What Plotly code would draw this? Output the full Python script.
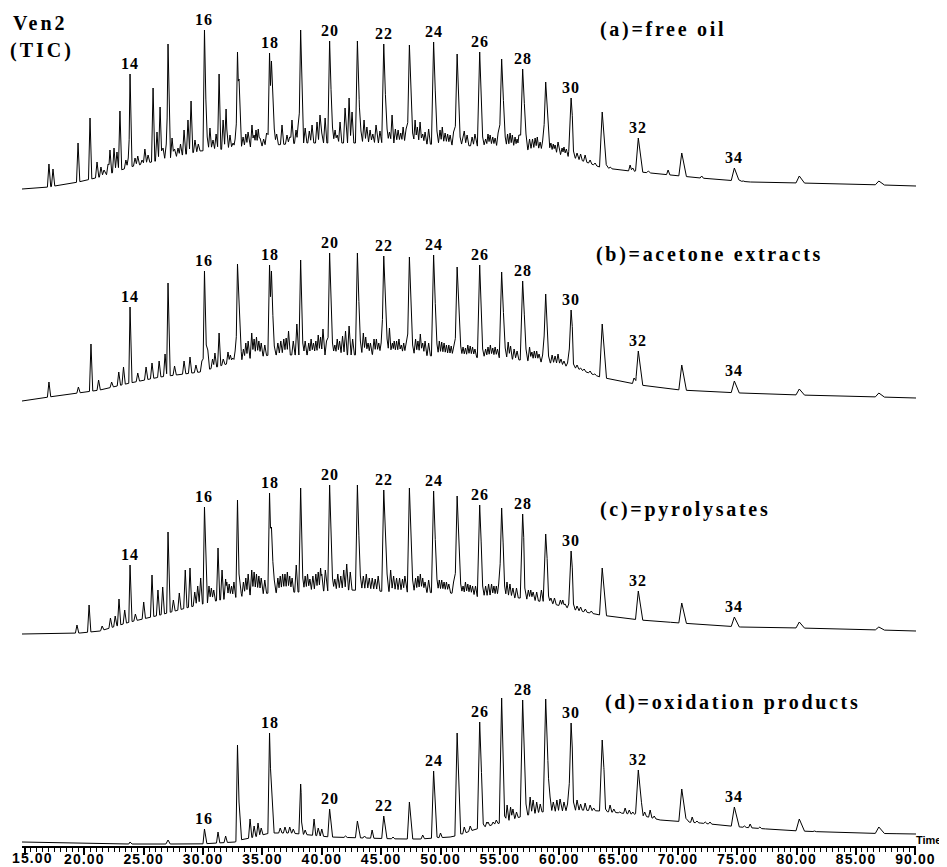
import numpy as np
import plotly.graph_objects as go

# ------------------------------------------------------------------ data
carbon_numbers = list(range(14, 37))
alkane_times = [23.85, 27.05, 30.12, 32.90, 35.60, 38.22, 40.66, 43.00, 45.22, 47.38,
                49.42, 51.40, 53.30, 55.15, 56.92, 58.86, 61.00, 63.62, 66.66, 70.32,
                74.75, 80.22, 86.92]
pristane_time = 33.03
phytane_time = 35.76

# n-alkane apex abundances (arbitrary units) per trace
alk_a = [115, 145, 159, 137, 136, 159, 148, 148, 145, 144, 147, 135, 137, 130, 120, 107, 91, 77, 51, 36, 21, 13, 8]
alk_b = [94, 118, 130, 137, 136, 141, 148, 148, 145, 144, 146, 134, 136, 129, 120, 107, 91, 77, 50, 36, 20, 12, 8]
alk_c = [69, 102, 127, 134, 141, 146, 149, 149, 144, 146, 143, 138, 129, 126, 120, 100, 83, 66, 43, 31, 17, 12, 7]
alk_d = [0, 2, 13, 97, 109, 58, 33, 21, 26, 40, 71, 109, 120, 144, 142, 143, 119, 102, 72, 53, 35, 23, 15]

pr_ph_a = [110, 128]
pr_ph_b = [100, 130]
pr_ph_c = [60, 107]
pr_ph_d = [40, 58]

# unresolved complex mixture hump (baseline) per trace
hump_t_a = [14.75, 17.0, 19.5, 21.3, 23.85, 26.4, 29.75, 34.0, 38.2, 42.4, 46.6, 50.8, 55.0, 59.2, 61.3, 63.4, 65.1, 67.7, 71.9, 76.1, 80.3, 84.5, 90.05]
hump_v_a = [0, 2, 7, 12, 22, 29, 38, 42, 46, 46, 46, 44, 42, 37, 31, 22, 19, 16, 11, 7, 6, 5, 3]
hump_t_b = [14.75, 17.02, 21.32, 23.85, 26.38, 29.75, 33.12, 35.64, 38.17, 42.38, 46.6, 50.81, 55.02, 59.23, 61.34, 63.44, 66.81, 70.18, 75.24, 80.29, 87.03, 90.05]
hump_v_b = [0, 4, 11, 18, 24, 29, 41, 46, 46, 46, 47, 44, 43, 38, 33, 24, 16, 11, 8, 6, 4, 3]
hump_t_c = [14.75, 19.64, 21.32, 23.85, 26.38, 28.9, 31.43, 33.96, 35.64, 38.17, 42.38, 46.6, 50.81, 53.33, 56.7, 59.23, 61.34, 63.44, 66.81, 70.18, 75.24, 80.29, 87.03, 90.05]
hump_v_c = [0, 1, 3, 12, 19, 27, 34, 39, 41, 42, 44, 42, 41, 37, 36, 31, 24, 19, 14, 11, 7, 6, 4, 3]
hump_t_d = [14.75, 21.32, 29.75, 32.69, 33.12, 33.96, 35.64, 37.33, 40.7, 46.6, 48.28, 50.81, 51.65, 52.49, 53.33, 55.02, 56.7, 58.39, 60.07, 61.76, 63.44, 65.13, 66.81, 68.5, 71.87, 75.24, 78.61, 80.29, 84.5, 90.05]
hump_v_d = [0, -2, -2, 0, 2, 4, 9, 9, 5, 3, 3, 5, 7, 11, 14, 19, 25, 30, 31, 32, 31, 29, 27, 22, 19, 15, 12, 11, 9, 8]

# minor resolved peaks (time, apex abundance)
minor_t_a = [17.02, 17.36, 19.47, 20.48, 21.07, 21.4, 21.66, 22.0, 22.16, 22.5, 22.75, 23.0, 23.5, 23.7, 24.27,
             24.5, 24.86, 25.1, 25.37, 25.79, 26.12, 26.38, 26.63, 26.9, 27.39, 27.6, 27.89, 28.1, 28.4, 28.73,
             28.99, 29.32, 29.6, 30.35, 30.58, 30.84, 31.1, 31.35, 31.69, 31.94, 32.0, 32.27, 32.53, 32.7, 33.37,
             33.6, 33.79, 34.12, 34.3, 34.46, 34.65, 34.8, 35.1, 35.35, 36.0, 36.2, 36.65, 37.07, 37.3, 37.49,
             37.83, 38.0, 38.6, 38.95, 39.18, 39.6, 39.85, 40.0, 40.28, 40.9, 41.12, 41.3, 41.54, 41.96, 42.3,
             42.55, 43.3, 43.56, 43.8, 44.07, 44.3, 44.57, 44.9, 45.5, 45.7, 45.92, 46.2, 46.43, 46.65, 46.85,
             47.1, 47.65, 47.86, 48.05, 48.28, 48.5, 48.7, 49.0, 49.7, 49.96, 50.15, 50.39, 50.6, 50.81, 51.1,
             51.65, 51.9, 52.0, 52.24, 52.66, 52.9, 53.55, 53.8, 54.0, 54.18, 54.4, 54.6, 54.85, 55.45, 55.65,
             55.86, 56.05, 56.28, 56.45, 56.6, 57.2, 57.5, 57.75, 57.97, 58.15, 58.39, 58.6, 59.1, 59.3, 59.5,
             59.65, 59.9, 60.24, 60.4, 60.6, 61.2, 61.5, 61.8, 62.18, 62.6, 63.02, 64.3, 65.97, 66.2, 67.5,
             69.17, 72.0, 75.5]
minor_v_a = [25, 20, 46, 71, 27, 22, 19, 25, 39, 41, 37, 78, 29, 31, 31,
             33, 29, 40, 34, 101, 57, 82, 41, 45, 51, 40, 41, 45, 59, 69,
             88, 49, 45, 52, 61, 49, 55, 115, 69, 80, 60, 54, 46, 50, 52,
             55, 57, 64, 54, 59, 60, 51, 50, 56, 60, 55, 64, 54, 52, 69,
             59, 63, 61, 58, 64, 67, 74, 56, 71, 62, 59, 54, 67, 81, 91,
             77, 58, 69, 62, 59, 55, 64, 58, 60, 57, 74, 60, 59, 56, 62,
             60, 56, 69, 62, 67, 55, 57, 60, 58, 59, 62, 56, 55, 54, 57,
             52, 52, 58, 54, 52, 55, 52, 50, 55, 54, 52, 51, 56, 52, 55,
             56, 54, 52, 50, 54, 55, 50, 50, 51, 52, 47, 48, 50, 46, 45,
             44, 47, 41, 42, 40, 38, 36, 35, 34, 29, 26, 22, 24, 21, 18,
             19, 13, 8]

minor_t_b = [17.02, 19.5, 20.56, 21.2, 22.3, 22.9, 23.3, 24.5, 25.2, 25.7, 26.3, 26.8, 27.6, 28.4, 28.9,
             29.4, 29.9, 30.4, 30.8, 31.0, 31.35, 31.7, 32.1, 32.3, 32.5, 32.7, 33.4, 33.6, 33.8, 34.1,
             34.3, 34.5, 34.7, 34.9, 35.2, 36.0, 36.3, 36.55, 36.8, 37.0, 37.2, 37.6, 37.9, 38.4, 38.6,
             38.9, 39.1, 39.3, 39.5, 39.7, 39.9, 40.1, 40.4, 40.9, 41.1, 41.3, 41.5, 41.75, 42.0, 42.3,
             42.6, 43.25, 43.5, 43.7, 43.9, 44.1, 44.4, 44.6, 44.8, 45.0, 45.5, 45.7, 45.95, 46.1, 46.3,
             46.5, 46.7, 46.9, 47.1, 47.65, 47.9, 48.1, 48.3, 48.5, 48.7, 49.0, 49.7, 49.9, 50.1, 50.3,
             50.5, 50.7, 50.9, 51.1, 51.7, 51.9, 52.1, 52.3, 52.5, 52.7, 52.9, 53.55, 53.8, 54.0, 54.2,
             54.4, 54.6, 54.8, 55.45, 55.7, 55.9, 56.2, 56.45, 57.2, 57.5, 57.7, 57.9, 58.1, 58.3, 58.6,
             59.1, 59.4, 59.65, 59.9, 60.15, 60.4, 60.7, 61.2, 61.5, 61.8, 62.1, 62.6, 63.0, 66.3, 67.8,
             69.5]
minor_v_b = [19, 14, 57, 21, 19, 29, 34, 28, 34, 38, 40, 47, 35, 40, 44,
             36, 40, 51, 42, 48, 68, 42, 49, 46, 43, 50, 52, 58, 60, 68,
             62, 64, 60, 58, 56, 55, 58, 60, 62, 63, 70, 60, 77, 58, 60,
             58, 62, 58, 60, 66, 64, 72, 60, 58, 56, 62, 60, 65, 70, 75,
             62, 60, 68, 64, 58, 58, 62, 62, 58, 58, 62, 73, 58, 60, 60,
             62, 56, 58, 58, 56, 62, 60, 67, 58, 60, 58, 57, 60, 59, 58,
             56, 56, 55, 54, 55, 54, 53, 56, 55, 54, 52, 52, 52, 54, 56,
             53, 54, 52, 53, 59, 55, 52, 50, 52, 54, 49, 50, 50, 47, 46,
             45, 46, 45, 47, 42, 40, 38, 37, 36, 33, 32, 30, 27, 23, 12,
             10]

minor_t_c = [19.38, 20.4, 21.5, 22.2, 22.6, 22.92, 23.4, 24.3, 25.0, 25.7, 26.2, 26.6, 27.5, 28.0, 28.5,
             28.9, 29.3, 29.55, 29.8, 30.5, 30.7, 30.9, 31.26, 31.6, 31.9, 32.0, 32.2, 32.4, 32.6, 33.4,
             33.6, 33.8, 34.1, 34.3, 34.5, 34.7, 34.9, 35.2, 36.0, 36.3, 36.5, 36.7, 36.9, 37.1, 37.3,
             37.5, 37.85, 38.4, 38.6, 38.8, 39.0, 39.25, 39.5, 39.7, 39.9, 40.0, 40.3, 40.9, 41.1, 41.35,
             41.6, 41.85, 42.1, 42.4, 43.25, 43.5, 43.75, 44.0, 44.25, 44.5, 44.75, 45.5, 45.8, 46.05, 46.3,
             46.55, 46.8, 47.0, 47.65, 47.9, 48.1, 48.3, 48.5, 48.7, 49.0, 49.7, 49.9, 50.1, 50.3, 50.5,
             50.7, 51.1, 51.7, 51.9, 52.1, 52.3, 52.5, 52.7, 52.95, 53.55, 53.8, 54.05, 54.3, 54.5, 54.7,
             54.9, 55.4, 55.6, 55.85, 56.1, 56.4, 57.1, 57.4, 57.6, 57.8, 58.1, 58.5, 59.1, 59.3, 59.6,
             60.1, 60.3, 60.5, 60.8, 61.2, 61.5, 61.8, 62.2, 62.7, 66.0, 69.5]
minor_v_c = [9, 29, 8, 16, 18, 35, 24, 20, 32, 59, 44, 47, 34, 41, 64,
             66, 42, 48, 56, 48, 46, 44, 86, 64, 55, 52, 50, 48, 52, 52,
             56, 60, 64, 62, 60, 58, 56, 54, 54, 56, 58, 60, 60, 62, 58,
             56, 69, 56, 58, 60, 55, 58, 60, 62, 66, 60, 64, 56, 55, 60,
             58, 64, 70, 62, 58, 58, 60, 56, 56, 55, 58, 60, 64, 58, 56,
             56, 55, 58, 54, 56, 58, 60, 56, 52, 54, 55, 54, 54, 52, 52,
             50, 52, 50, 48, 52, 50, 49, 48, 48, 48, 48, 50, 50, 48, 48,
             50, 48, 52, 50, 46, 46, 46, 44, 44, 42, 42, 44, 38, 36, 36,
             34, 34, 30, 30, 30, 28, 27, 25, 23, 14, 8]

minor_t_d = [27.0, 31.26, 31.9, 33.96, 34.3, 34.63, 34.9, 36.5, 36.9, 37.3, 37.6, 38.3, 38.6, 39.35, 39.7,
             40.0, 42.0, 43.6, 44.24, 46.0, 48.5, 50.0, 52.0, 52.5, 53.6, 53.9, 54.0, 54.43, 54.7, 55.4,
             55.61, 55.9, 56.1, 56.4, 57.2, 57.55, 57.8, 58.1, 58.4, 59.23, 59.5, 59.8, 60.07, 60.4, 60.7,
             61.2, 61.5, 61.8, 62.18, 62.6, 62.9, 63.9, 64.28, 64.6, 65.1, 65.55, 65.9, 66.2, 67.2, 67.66,
             68.0, 68.8, 69.3, 70.8, 71.2, 71.6, 72.3, 72.7, 73.3, 74.0, 75.6, 76.08, 76.9, 77.5, 78.5,
             79.2, 81.5, 82.5, 84.0, 88.5]
minor_v_d = [2, 10, 6, 23, 16, 19, 14, 14, 15, 15, 13, 20, 12, 23, 14,
             13, 6, 6, 12, 5, 7, 9, 15, 16, 18, 20, 20, 20, 22, 26,
             37, 35, 33, 30, 38, 45, 42, 40, 38, 45, 40, 42, 43, 40, 38,
             40, 42, 38, 39, 37, 34, 33, 37, 33, 30, 34, 32, 30, 30, 32,
             26, 22, 21, 22, 25, 21, 20, 20, 18, 17, 16, 18, 15, 13, 12,
             11, 11, 10, 9, 8]

label_carbons_abc = [14, 16, 18, 20, 22, 24, 26, 28, 30, 32, 34]
label_carbons_d = [16, 18, 20, 22, 24, 26, 28, 30, 32, 34]

panel_titles = ["(a)=free oil", "(b)=acetone extracts", "(c)=pyrolysates", "(d)=oxidation products"]
tick_values = [15, 20, 25, 30, 35, 40, 45, 50, 55, 60, 65, 70, 75, 80, 85, 90]
tick_labels = ["15.00", "20.00", "25.00", "30.00", "35.00", "40.00", "45.00", "50.00",
               "55.00", "60.00", "65.00", "70.00", "75.00", "80.00", "85.00", "90.00"]


# ------------------------------------------------------------------ build traces
def build_trace(hump_t, hump_v, alk_v, prph_v, minor_t, minor_v):
    pt = list(alkane_times) + [pristane_time, phytane_time] + list(minor_t)
    pv = list(alk_v) + list(prph_v) + list(minor_v)
    major = [True] * (len(alkane_times) + 2) + [False] * len(minor_t)
    order = np.argsort(pt, kind="stable")
    t = np.array(pt, dtype=float)[order]
    v = np.array(pv, dtype=float)[order]
    mj = np.array(major)[order]
    n = len(t)

    def base(x):
        return float(np.interp(x, hump_t, hump_v))

    h = np.array([max(v[i] - base(t[i]), 0.0) for i in range(n)])
    wl = np.empty(n)
    wr = np.empty(n)
    for i in range(n):
        w = 0.08 + 0.003 * (t[i] - 15)
        if mj[i]:
            wl[i], wr[i] = w, 1.6 * w
        else:
            wl[i], wr[i] = 0.13, 0.15

    def tri(i, x):
        w = wl[i] if x < t[i] else wr[i]
        return h[i] * max(0.0, 1 - abs(x - t[i]) / w)

    xs, ys, spans = [], [], []
    for i in range(n):
        left, right = t[i] - wl[i], t[i] + wr[i]
        if i > 0:
            left = max(left, (t[i - 1] + t[i]) / 2)
        if i < n - 1:
            right = min(right, (t[i] + t[i + 1]) / 2)
        yl = base(left) + max(tri(i, left), tri(i - 1, left) if i > 0 else 0.0)
        yr = base(right) + max(tri(i, right), tri(i + 1, right) if i < n - 1 else 0.0)
        xs += [left, t[i], right]
        ys += [yl, base(t[i]) + h[i], yr]
        spans.append((left, right))
    for ht, hv in zip(hump_t, hump_v):
        if not any(l <= ht <= r for l, r in spans):
            xs.append(ht)
            ys.append(hv)
    o = np.argsort(xs, kind="stable")
    return np.array(xs)[o], np.array(ys)[o]


panels = [
    (hump_t_a, hump_v_a, alk_a, pr_ph_a, minor_t_a, minor_v_a, label_carbons_abc),
    (hump_t_b, hump_v_b, alk_b, pr_ph_b, minor_t_b, minor_v_b, label_carbons_abc),
    (hump_t_c, hump_v_c, alk_c, pr_ph_c, minor_t_c, minor_v_c, label_carbons_abc),
    (hump_t_d, hump_v_d, alk_d, pr_ph_d, minor_t_d, minor_v_d, label_carbons_d),
]

# ------------------------------------------------------------------ geometry
# the page body has an 8 px margin, so the figure is drawn 8 px smaller and offset
OFF = 8
PAGE_W, PAGE_H = 947, 867
PLOT_L, PLOT_R, PLOT_T, PLOT_B = 22, 916, OFF, 846      # plot area in page pixels
FIG_W, FIG_H = PAGE_W - OFF, PAGE_H - OFF
H = PLOT_B - PLOT_T
W = PLOT_R - PLOT_L

# (zero level, bottom, top) of each panel, in page pixels
panel_px = [(189, 196, 12), (401, 406, 210), (634, 640, 430), (842, 846, 650)]


def px_x(px):
    return (px - PLOT_L) / W


def px_y(py):
    return (PLOT_B - py) / H


SERIF = "Liberation Serif, Times New Roman, serif"
SANS = "Liberation Sans, Arial, sans-serif"
TICK_FONT = dict(family=SANS, size=14, color="black", weight="bold")


def spaced(s, px):
    return f'<span style="letter-spacing:{px}px">{s}</span>'


fig = go.Figure()
annotations = []
layout_axes = {}
for i, (ht, hv, av, pp, mt, mv, labs) in enumerate(panels):
    yname = "y" if i == 0 else f"y{i + 1}"
    ykey = "yaxis" if i == 0 else f"yaxis{i + 1}"
    xs, ys = build_trace(ht, hv, av, pp, mt, mv)
    fig.add_trace(go.Scatter(x=xs, y=ys, mode="lines", line=dict(color="black", width=1),
                             xaxis="x", yaxis=yname, hoverinfo="skip", showlegend=False))
    Z, B, T = panel_px[i]
    layout_axes[ykey] = dict(domain=[px_y(B), px_y(T)], range=[Z - B, Z - T],
                             visible=False, anchor="x", fixedrange=True)
    for c in labs:
        k = carbon_numbers.index(c)
        annotations.append(dict(x=alkane_times[k], y=av[k], xref="x", yref=yname,
                                text=spaced(f"<b>{c}</b>", 1),
                                showarrow=False, xanchor="center", yanchor="bottom", yshift=0,
                                font=dict(family=SERIF, size=16, color="black")))

# panel titles
title_pos = [(598, 30), (594, 255), (598, 509.5), (603, 702.5)]
for (px, py), txt in zip(title_pos, panel_titles):
    annotations.append(dict(x=px_x(px), y=px_y(py), xref="paper", yref="paper",
                            text=spaced(f"<b>{txt}</b>", 2.7),
                            showarrow=False, xanchor="left", yanchor="middle",
                            font=dict(family=SERIF, size=20, color="black")))
annotations.append(dict(x=px_x(40), y=px_y(23.5), xref="paper", yref="paper",
                        text=spaced("<b>Ven2</b>", 3), showarrow=False,
                        xanchor="center", yanchor="middle", font=dict(family=SERIF, size=20, color="black")))
annotations.append(dict(x=px_x(42), y=px_y(50), xref="paper", yref="paper",
                        text=spaced("<b>(TIC)</b>", 3), showarrow=False,
                        xanchor="center", yanchor="middle", font=dict(family=SERIF, size=20, color="black")))
annotations.append(dict(x=px_x(914), y=px_y(840), xref="paper", yref="paper",
                        text="<b>Time</b>", showarrow=False, xanchor="left", yanchor="middle",
                        font=dict(family=SANS, size=11, color="black")))
# first tick label sits against the page edge: draw it as an annotation nudged inward
annotations.append(dict(x=px_x(10), y=px_y(857.5), xref="paper", yref="paper",
                        text=spaced(tick_labels[0], 1.1), showarrow=False,
                        xanchor="left", yanchor="middle", font=TICK_FONT))

fig.update_layout(
    width=FIG_W, height=FIG_H,
    margin=dict(l=PLOT_L - OFF, r=PAGE_W - PLOT_R, t=PLOT_T - OFF, b=PAGE_H - PLOT_B, pad=0,
                autoexpand=False),
    paper_bgcolor="white", plot_bgcolor="white",
    showlegend=False,
    annotations=annotations,
    xaxis=dict(domain=[0, 1], anchor="y4", range=[14.75, 90.05], showgrid=False, zeroline=False,
               showline=True, linecolor="black", linewidth=2, automargin=False,
               ticks="outside", ticklen=7, tickwidth=1.5, tickcolor="black",
               ticklabelstandoff=-8, ticklabeloverflow="allow",
               tickmode="array", tickvals=tick_values,
               ticktext=[""] + [spaced(s, 1.1) for s in tick_labels[1:]],
               tickfont=TICK_FONT,
               minor=dict(tickmode="linear", tick0=15, dtick=0.5, ticks="outside", ticklen=4,
                          tickwidth=1, tickcolor="black", showgrid=False),
               fixedrange=True),
    **layout_axes,
)

fig.write_html("out.html")
